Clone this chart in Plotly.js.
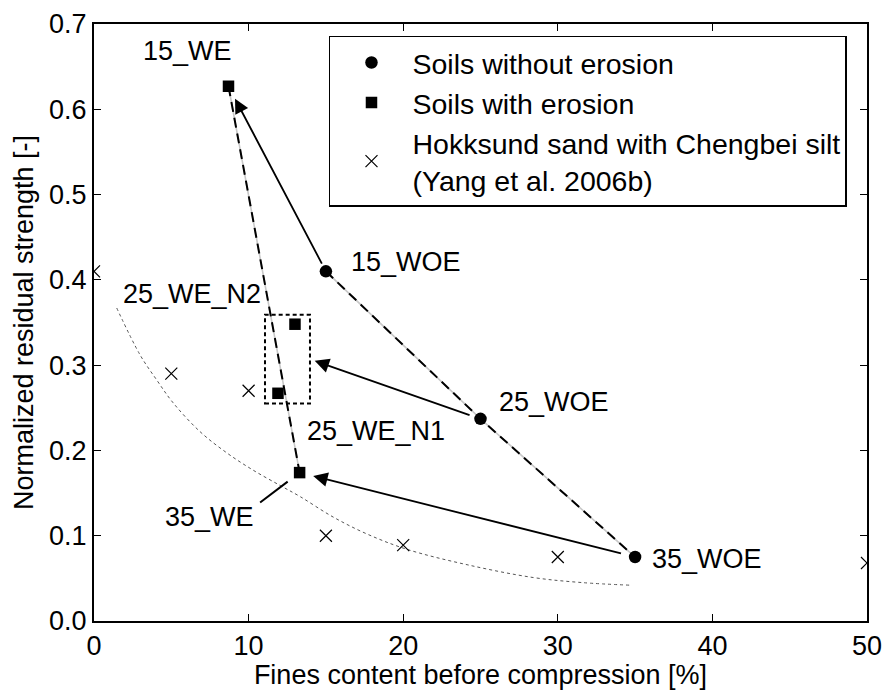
<!DOCTYPE html>
<html>
<head>
<meta charset="utf-8">
<script src="https://cdn.plot.ly/plotly-3.0.1.min.js"></script>
<style>
  html, body { margin: 0; padding: 0; background: #fff; }
  #chart { width: 884px; height: 690px; }
</style>
</head>
<body>
<div id="chart"></div>
<script>
// Soils without erosion (WOE)
const finesWOE = [15, 25, 35];
const strengthWOE = [0.410, 0.237, 0.075];
const labelsWOE = ['15_WOE', '25_WOE', '35_WOE'];

// Soils with erosion (WE)
const finesWE = [8.7, 11.9, 13.0, 13.3];
const strengthWE = [0.627, 0.267, 0.348, 0.174];
const labelsWE = ['15_WE', '25_WE_N1', '25_WE_N2', '35_WE'];

// Hokksund sand with Chengbei silt (Yang et al. 2006b)
const finesYang = [0, 5, 10, 15, 20, 30, 50];
const strengthYang = [0.410, 0.290, 0.270, 0.100, 0.089, 0.075, 0.068];

// dotted trend through the Yang et al. data
const finesTrend = [1.47, 2.98, 4.08, 5.11, 6.86, 8.60, 10.28, 12.03, 13.32, 15.46, 17.66, 20.25, 24.13, 28.4, 31.6, 34.67];
const strengthTrend = [0.367, 0.312, 0.282, 0.256, 0.222, 0.197, 0.177, 0.159, 0.146, 0.122, 0.102, 0.084, 0.066, 0.051, 0.045, 0.042];

// group of the two 25_WE specimens
const groupFines = [11.06, 13.97];
const groupStrength = [0.255, 0.359];

const FONT = 'Liberation Sans, Arial, Helvetica, sans-serif';
const FS = 27;

// path of the eroded specimens (15_WE -> 35_WE) and of the intact ones
const weIdx = [0, 3];
const wePathX = weIdx.map(i => finesWE[i]);
const wePathY = weIdx.map(i => strengthWE[i]);

function pathPair(x, y) {
  return [
    { x: x, y: y, mode: 'lines', type: 'scatter', showlegend: false, hoverinfo: 'skip',
      line: { color: '#c8c8c8', width: 1.6 } },
    { x: x, y: y, mode: 'lines', type: 'scatter', showlegend: false, hoverinfo: 'skip',
      line: { color: '#000', width: 2, dash: '10px,6px' } }
  ];
}

const traces = [
  { x: finesTrend, y: strengthTrend, mode: 'lines', type: 'scatter', showlegend: false,
    hoverinfo: 'skip', line: { color: '#555', width: 1, dash: 'dot', shape: 'spline', smoothing: 1 } },
  ...pathPair(wePathX, wePathY),
  ...pathPair(finesWOE, strengthWOE),
  { x: finesWOE, y: strengthWOE, mode: 'markers', type: 'scatter', name: 'Soils without erosion',
    marker: { symbol: 'circle', size: 12.5, color: '#000' } },
  { x: finesWE, y: strengthWE, mode: 'markers', type: 'scatter', name: 'Soils with erosion',
    marker: { symbol: 'square', size: 11.5, color: '#000' } },
  { x: finesYang, y: strengthYang, mode: 'markers', type: 'scatter',
    name: 'Hokksund sand with Chengbei silt<br>(Yang et al. 2006b)',
    marker: { symbol: 'x-thin-open', size: 12, color: '#000', line: { width: 1.2, color: '#000' } } }
];

// point labels, offset in pixels from their markers
const woeOffsets = [[80, -9], [73, -17], [72, 2]];
const weOffsets = [[-41, -35], [98, 38], [-103, -30], [-90, 44]];

const annotations = [];
labelsWOE.forEach((t, i) => annotations.push({
  x: finesWOE[i], y: strengthWOE[i], xref: 'x', yref: 'y', text: t, showarrow: false,
  xshift: woeOffsets[i][0], yshift: -woeOffsets[i][1], font: { family: FONT, size: FS, color: '#000' }
}));
labelsWE.forEach((t, i) => annotations.push({
  x: finesWE[i], y: strengthWE[i], xref: 'x', yref: 'y', text: t, showarrow: false,
  xshift: weOffsets[i][0], yshift: -weOffsets[i][1], font: { family: FONT, size: FS, color: '#000' }
}));

// arrows from intact to eroded state
const arrowStyle = { showarrow: true, arrowhead: 2, arrowsize: 1.6, arrowwidth: 1.8, arrowcolor: '#000', text: '' };
annotations.push(Object.assign({}, arrowStyle, {
  x: finesWE[0], y: strengthWE[0], ax: finesWOE[0], ay: strengthWOE[0],
  xref: 'x', yref: 'y', axref: 'x', ayref: 'y', standoff: 14, startstandoff: 7
}));
annotations.push(Object.assign({}, arrowStyle, {
  x: groupFines[1], y: (groupStrength[0] + groupStrength[1]) / 2, ax: finesWOE[1], ay: strengthWOE[1],
  xref: 'x', yref: 'y', axref: 'x', ayref: 'y', standoff: 5, startstandoff: 10
}));
annotations.push(Object.assign({}, arrowStyle, {
  x: finesWE[3], y: strengthWE[3], ax: finesWOE[2], ay: strengthWOE[2],
  xref: 'x', yref: 'y', axref: 'x', ayref: 'y', standoff: 14, startstandoff: 13
}));
// leader line to the 35_WE label
annotations.push({
  x: finesWE[3], y: strengthWE[3], xref: 'x', yref: 'y', ax: -41, ay: 31,
  showarrow: true, arrowhead: 0, arrowwidth: 2, arrowcolor: '#000', standoff: 15, text: ''
});

const axisCommon = {
  showgrid: false, zeroline: false, showline: true, linecolor: '#000', linewidth: 2,
  mirror: 'ticks', ticks: 'inside', ticklen: 7, tickwidth: 1.2, tickcolor: '#000',
  tickfont: { family: FONT, size: FS, color: '#000' }
};

const layout = {
  width: 884, height: 690,
  margin: { l: 94, r: 17, t: 24, b: 69 },
  paper_bgcolor: '#fff', plot_bgcolor: '#fff',
  font: { family: FONT, size: FS, color: '#000' },
  xaxis: Object.assign({}, axisCommon, {
    range: [0, 50], dtick: 10, tick0: 0,
    title: { text: 'Fines content before compression [%]', font: { family: FONT, size: FS, color: '#000' }, standoff: 6 }
  }),
  yaxis: Object.assign({}, axisCommon, {
    range: [0, 0.7], dtick: 0.1, tick0: 0, tickformat: '.1f',
    title: { text: 'Normalized residual strength [-]', font: { family: FONT, size: FS, color: '#000' }, standoff: 8 }
  }),
  legend: {
    x: 0.304, y: 0.98, xanchor: 'left', yanchor: 'top',
    bgcolor: '#fff', bordercolor: '#000', borderwidth: 1.5,
    font: { family: FONT, size: 28.5, color: '#000' },
    itemwidth: 72, tracegroupgap: 0, valign: 'middle'
  },
  shapes: [{
    type: 'rect', xref: 'x', yref: 'y',
    x0: groupFines[0], x1: groupFines[1], y0: groupStrength[0], y1: groupStrength[1],
    line: { color: '#000', width: 2, dash: '4px,3px' }
  }],
  annotations: annotations
};

Plotly.newPlot('chart', traces, layout, { displayModeBar: false, staticPlot: true });
</script>
</body>
</html>
